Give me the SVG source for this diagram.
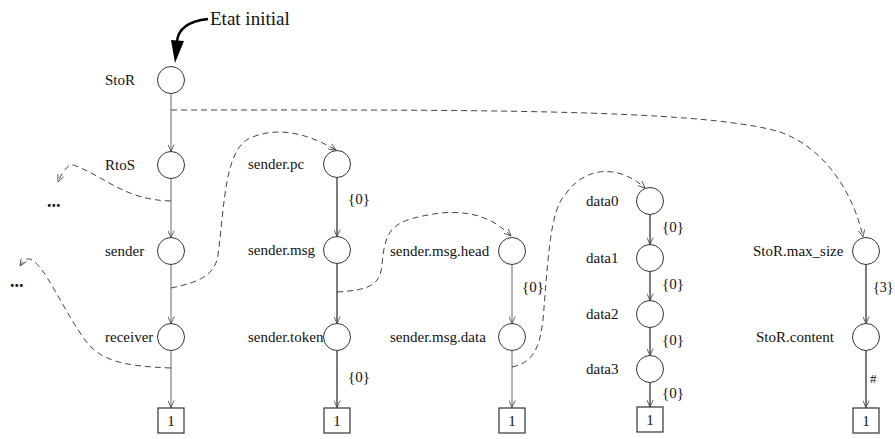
<svg xmlns="http://www.w3.org/2000/svg" width="895" height="439" viewBox="0 0 895 439">
<style>
text{font-family:"Liberation Serif","Times New Roman",serif;font-size:15px;fill:#111}
.n{fill:#fff;stroke:#333;stroke-width:1}
.b{fill:#fff;stroke:#333;stroke-width:1.2}
.e{stroke:#666;stroke-width:1;fill:none}
.e2{stroke:#444;stroke-width:1.4;fill:none}
.d{stroke:#444;stroke-width:1;fill:none;stroke-dasharray:6,4}
.c{text-anchor:middle}
</style>
<defs>
<marker id="v" viewBox="0 0 10 10" refX="10" refY="5" markerUnits="userSpaceOnUse" markerWidth="9" markerHeight="7" orient="auto">
<path d="M0,0.5 L10,5 L0,9.5" fill="none" stroke="#444" stroke-width="1.2"/>
</marker>
</defs>
<g id="initial">
<text x="210" y="25" style="font-size:19px">Etat initial</text>
<path d="M208,19 C190,21 178,27 177,42" fill="none" stroke="#000" stroke-width="2.5"/>
<polygon points="171,40 184,41 175,63" fill="#000"/>
</g>
<g id="connectors">
<line class="e" x1="171" y1="93.5" x2="171" y2="151.5" marker-end="url(#v)"/>
<line class="e" x1="171" y1="178.5" x2="171" y2="237.5" marker-end="url(#v)"/>
<line class="e" x1="171" y1="264.5" x2="171" y2="323.5" marker-end="url(#v)"/>
<line class="e" x1="171" y1="350.5" x2="171" y2="407.5" marker-end="url(#v)"/>
<line class="e2" x1="337" y1="177.5" x2="337" y2="236.5" marker-end="url(#v)"/>
<line class="e2" x1="337" y1="263.5" x2="337" y2="323.5" marker-end="url(#v)"/>
<line class="e2" x1="337" y1="350.5" x2="337" y2="407.5" marker-end="url(#v)"/>
<line class="e" x1="512" y1="264.5" x2="512" y2="323.5" marker-end="url(#v)"/>
<line class="e" x1="512" y1="350.5" x2="512" y2="407.5" marker-end="url(#v)"/>
<line class="e2" x1="650" y1="214.5" x2="650" y2="244.5" marker-end="url(#v)"/>
<line class="e2" x1="650" y1="271.5" x2="650" y2="300.5" marker-end="url(#v)"/>
<line class="e2" x1="650" y1="327.5" x2="650" y2="355.5" marker-end="url(#v)"/>
<line class="e2" x1="650" y1="382.5" x2="650" y2="407" marker-end="url(#v)"/>
<line class="e2" x1="866" y1="264.5" x2="866" y2="323.5" marker-end="url(#v)"/>
<line class="e2" x1="866" y1="350.5" x2="866" y2="407.5" marker-end="url(#v)"/>
<path class="d" d="M171,110 C450,110 700,108 780,132 C830,150 855,200 863,237" marker-end="url(#v)"/>
<path class="d" d="M171,201 C125,200 105,177 76,166 Q67,161 58,182" marker-end="url(#v)"/>
<path class="d" d="M171,368 C120,366 100,360 85,340 C60,305 45,265 30,259 Q25,258 20,266" marker-end="url(#v)"/>
<path class="d" d="M171,288 C200,282 215,275 218,255 C225,200 225,150 250,138 C280,125 310,135 336,150" marker-end="url(#v)"/>
<path class="d" d="M337,292 C370,290 380,285 382,265 C385,225 395,220 440,213 C475,210 495,220 511,236" marker-end="url(#v)"/>
<path class="d" d="M512,367 C535,362 540,345 543,320 C548,260 550,210 565,195 C585,165 620,165 645,188" marker-end="url(#v)"/>
<text x="348" y="204">{0}</text>
<text x="348" y="382">{0}</text>
<text x="522" y="292">{0}</text>
<text x="662" y="232">{0}</text>
<text x="662" y="289">{0}</text>
<text x="662" y="345">{0}</text>
<text x="662" y="398">{0}</text>
<text x="873" y="292" style="font-size:14px">{3}</text>
<text x="870" y="383" style="font-size:13px">#</text>
</g>
<g id="dots1"><text x="47" y="207" style="font-weight:bold;font-size:18px">...</text></g>
<g id="dots2"><text x="10" y="287" style="font-weight:bold;font-size:18px">...</text></g>
<g id="StoR"><circle class="n" cx="171" cy="80" r="13.5"/><text x="105" y="85">StoR</text></g>
<g id="RtoS"><circle class="n" cx="171" cy="165" r="13.5"/><text x="105" y="170">RtoS</text></g>
<g id="sender"><circle class="n" cx="171" cy="251" r="13.5"/><text x="105" y="256">sender</text></g>
<g id="receiver"><circle class="n" cx="171" cy="337" r="13.5"/><text x="105" y="342">receiver</text></g>
<g id="box1"><rect class="b" x="158" y="408" width="26" height="25"/><text class="c" x="171" y="426">1</text></g>
<g id="sender.pc"><circle class="n" cx="337" cy="164" r="13.5"/><text x="248" y="169">sender.pc</text></g>
<g id="sender.msg"><circle class="n" cx="337" cy="250" r="13.5"/><text x="248" y="255">sender.msg</text></g>
<g id="sender.token"><circle class="n" cx="337" cy="337" r="13.5"/><text x="248" y="342">sender.token</text></g>
<g id="box2"><rect class="b" x="324" y="408" width="26" height="25"/><text class="c" x="337" y="426">1</text></g>
<g id="sender.msg.head"><circle class="n" cx="512" cy="251" r="13.5"/><text x="390" y="256">sender.msg.head</text></g>
<g id="sender.msg.data"><circle class="n" cx="512" cy="337" r="13.5"/><text x="390" y="342">sender.msg.data</text></g>
<g id="box3"><rect class="b" x="499" y="408" width="26" height="25"/><text class="c" x="512" y="426">1</text></g>
<g id="data0"><circle class="n" cx="650" cy="201" r="13.5"/><text x="586" y="206">data0</text></g>
<g id="data1"><circle class="n" cx="650" cy="258" r="13.5"/><text x="586" y="263">data1</text></g>
<g id="data2"><circle class="n" cx="650" cy="314" r="13.5"/><text x="586" y="319">data2</text></g>
<g id="data3"><circle class="n" cx="650" cy="369" r="13.5"/><text x="586" y="374">data3</text></g>
<g id="box4"><rect class="b" x="637" y="407" width="26" height="25"/><text class="c" x="650" y="425">1</text></g>
<g id="StoR.max_size"><circle class="n" cx="866" cy="251" r="13.5"/><text x="753" y="256">StoR.max_size</text></g>
<g id="StoR.content"><circle class="n" cx="866" cy="337" r="13.5"/><text x="756" y="342">StoR.content</text></g>
<g id="box5"><rect class="b" x="853" y="408" width="26" height="25"/><text class="c" x="866" y="426">1</text></g>
</svg>
